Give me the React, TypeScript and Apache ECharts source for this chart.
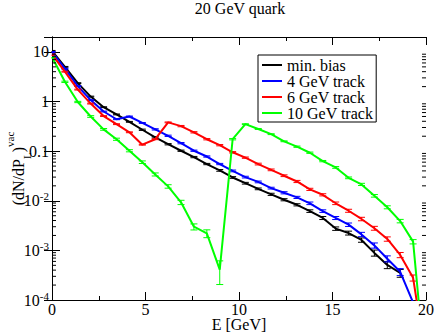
import React, { useEffect, useRef } from 'react';
import * as echarts from 'echarts';

// Energy grid (GeV)
const energies = [0, 0.69, 1.38, 2.07, 2.76, 3.45, 4.14, 4.83, 5.52, 6.21, 6.9, 7.59, 8.28, 8.97, 9.66, 10.34, 11.03, 11.72, 12.41, 13.1, 13.79, 14.48, 15.17, 15.86, 16.55, 17.24, 17.93, 18.62, 19.31, 20];

const minBias = [10.5, 5.0, 2.35, 1.26, 0.77, 0.55, 0.39, 0.27, 0.19, 0.138, 0.102, 0.076, 0.055, 0.041, 0.0295, 0.0226, 0.0174, 0.0135, 0.0105, 0.0083, 0.0062, 0.0045, 0.00275, 0.00224, 0.00162, 0.00089, 0.00051, 0.00035, null, null];
const track4 = [10, 4.6, 2.05, 1.07, 0.63, 0.44, 0.5, 0.37, 0.275, 0.204, 0.145, 0.102, 0.078, 0.055, 0.04, 0.03, 0.024, 0.018, 0.0145, 0.0117, 0.0089, 0.0062, 0.0045, 0.0033, 0.0021, 0.00126, 0.00068, 0.00037, 0.000089, null];
const track6 = [8.9, 4.0, 1.74, 0.91, 0.51, 0.35, 0.24, 0.135, 0.174, 0.38, 0.32, 0.24, 0.174, 0.132, 0.095, 0.074, 0.055, 0.042, 0.032, 0.0245, 0.017, 0.0132, 0.0089, 0.0063, 0.0043, 0.0028, 0.0017, 0.00081, 0.00028, 0.000006];
const track10 = [7.9, 2.5, 0.98, 0.5, 0.275, 0.174, 0.102, 0.06, 0.034, 0.0195, 0.0093, 0.003, 0.0022, 0.00041, 0.174, 0.35, 0.28, 0.22, 0.158, 0.123, 0.093, 0.063, 0.047, 0.029, 0.0214, 0.0126, 0.0074, 0.0039, 0.0015, 0.0000025];

// relative statistical errors
const errMinBias = [0.02, 0.02, 0.02, 0.02, 0.02, 0.02, 0.02, 0.03, 0.03, 0.03, 0.03, 0.03, 0.03, 0.04, 0.04, 0.04, 0.04, 0.05, 0.05, 0.05, 0.06, 0.07, 0.08, 0.09, 0.1, 0.14, 0.16, 0.18, 0, 0];
const errTrack4 = [0.02, 0.02, 0.02, 0.02, 0.02, 0.02, 0.02, 0.02, 0.03, 0.03, 0.03, 0.03, 0.03, 0.03, 0.04, 0.04, 0.04, 0.04, 0.05, 0.05, 0.06, 0.06, 0.07, 0.08, 0.1, 0.12, 0.14, 0.16, 0, 0];
const errTrack6 = [0.02, 0.02, 0.02, 0.02, 0.02, 0.02, 0.02, 0.02, 0.02, 0.02, 0.03, 0.03, 0.03, 0.03, 0.03, 0.03, 0.04, 0.04, 0.04, 0.05, 0.05, 0.05, 0.06, 0.07, 0.08, 0.09, 0.1, 0.12, 0.14, 0];
const errTrack10 = [0.02, 0.03, 0.03, 0.04, 0.04, 0.05, 0.05, 0.06, 0.07, 0.08, 0.1, 0.14, 0.18, 0.5, 0.03, 0.02, 0.02, 0.02, 0.02, 0.03, 0.03, 0.03, 0.04, 0.04, 0.05, 0.06, 0.07, 0.08, 0.1, 0];

const seriesNames = ['min. bias', '4 GeV track', '6 GeV track', '10 GeV track'];
const seriesColors = ['#000000', '#0000ff', '#ff0000', '#00ff00'];
const seriesValues = [minBias, track4, track6, track10];
const seriesErrors = [errMinBias, errTrack4, errTrack6, errTrack10];

// minor log ticks (2..9 per decade)
const minorLogTicks = [
  0.0002, 0.0003, 0.0004, 0.0005, 0.0006, 0.0007, 0.0008, 0.0009,
  0.002, 0.003, 0.004, 0.005, 0.006, 0.007, 0.008, 0.009,
  0.02, 0.03, 0.04, 0.05, 0.06, 0.07, 0.08, 0.09,
  0.2, 0.3, 0.4, 0.5, 0.6, 0.7, 0.8, 0.9,
  2, 3, 4, 5, 6, 7, 8, 9,
];

const FONT = 'Liberation Serif';
const Y_MIN = 0.0001;
const Y_MAX = 20;

export default function App() {
  const ref = useRef<HTMLDivElement>(null);
  useEffect(() => {
    if (!ref.current) return;
    const chart = echarts.init(ref.current, undefined, { renderer: 'svg' });

    const lineSeries = seriesNames.map((name, i) => ({
      name,
      type: 'line',
      xAxisIndex: 0,
      yAxisIndex: 0,
      data: energies.map((e, k) => [e, seriesValues[i][k] == null ? '-' : seriesValues[i][k]]),
      showSymbol: false,
      symbol: 'none',
      connectNulls: false,
      lineStyle: { color: seriesColors[i], width: 2 },
      itemStyle: { color: seriesColors[i] },
      z: 3 + i,
      clip: true,
    }));

    const errSeries = seriesNames.map((name, i) => ({
      type: 'custom',
      xAxisIndex: 0,
      yAxisIndex: 0,
      silent: true,
      clip: true,
      z: 3 + i,
      encode: { x: 0, y: 1 },
      data: energies
        .map((e, k) => {
          const v = seriesValues[i][k];
          if (v == null || v < Y_MIN) return null;
          return [e, v, v * seriesErrors[i][k]];
        })
        .filter((d) => d !== null),
      renderItem: (params: any, api: any) => {
        const x = api.value(0);
        const y = api.value(1);
        const err = api.value(2);
        const top = api.coord([x, y + err]);
        const bot = api.coord([x, Math.max(y - err, 1e-12)]);
        const hw = 3.5;
        const st = { stroke: seriesColors[i], lineWidth: 1 };
        return {
          type: 'group',
          children: [
            { type: 'line', shape: { x1: top[0], y1: top[1], x2: bot[0], y2: bot[1] }, style: st },
            { type: 'line', shape: { x1: top[0] - hw, y1: top[1], x2: top[0] + hw, y2: top[1] }, style: st },
            { type: 'line', shape: { x1: bot[0] - hw, y1: bot[1], x2: bot[0] + hw, y2: bot[1] }, style: st },
          ],
        };
      },
    }));

    const minorTickSeries = {
      type: 'custom',
      xAxisIndex: 0,
      yAxisIndex: 0,
      silent: true,
      z: 10,
      encode: { x: 0, y: 1 },
      data: minorLogTicks.map((v) => [0, v]),
      renderItem: (params: any, api: any) => {
        const cs = params.coordSys;
        const p = api.coord([0, api.value(1)]);
        const st = { stroke: '#000', lineWidth: 1 };
        return {
          type: 'group',
          children: [
            { type: 'line', shape: { x1: cs.x, y1: p[1], x2: cs.x + 4, y2: p[1] }, style: st },
            { type: 'line', shape: { x1: cs.x + cs.width - 4, y1: p[1], x2: cs.x + cs.width, y2: p[1] }, style: st },
          ],
        };
      },
    };

    const yLabelFormatter = (v: number) => {
      const l = Math.log10(v);
      const e = Math.round(l);
      if (Math.abs(l - e) > 1e-6) return '';
      if (e === 1) return '10';
      if (e === 0) return '1';
      if (e === -1) return '0.1';
      return '10{sup|' + e + '}';
    };

    const axisLine = { show: true, lineStyle: { color: '#000', width: 1 } };

    chart.setOption({
      animation: false,
      title: {
        text: '20 GeV quark',
        left: 240,
        top: 0,
        padding: 0,
        textAlign: 'center',
        textStyle: { fontFamily: FONT, fontSize: 16, fontWeight: 'normal', color: '#000' },
      },
      legend: {
        data: seriesNames,
        orient: 'vertical',
        left: 258,
        top: 55,
        padding: [2, 3, 1, 4],
        itemGap: 0,
        itemWidth: 20,
        itemHeight: 2,
        icon: 'rect',
        borderColor: '#000',
        borderWidth: 1,
        backgroundColor: '#fff',
        textStyle: { fontFamily: FONT, fontSize: 16, color: '#000', lineHeight: 15.5 },
      },
      grid: { left: 52, right: 10, top: 37, bottom: 33, containLabel: false, outerBoundsMode: 'none' },
      xAxis: [
        {
          type: 'value',
          position: 'bottom',
          min: 0,
          max: 20,
          interval: 5,
          name: 'E [GeV]',
          nameLocation: 'middle',
          nameGap: 17,
          nameMoveOverlap: false,
          nameTextStyle: { fontFamily: FONT, fontSize: 16, color: '#000', lineHeight: 15 },
          axisLine,
          axisTick: { show: true, inside: true, length: 8, lineStyle: { color: '#000' } },
          minorTick: { show: true, splitNumber: 2, length: 4, lineStyle: { color: '#000' } },
          splitLine: { show: false },
          minorSplitLine: { show: false },
          axisLabel: { fontFamily: FONT, fontSize: 16, color: '#000', margin: 2, lineHeight: 14 },
        },
        {
          type: 'value',
          position: 'top',
          min: 0,
          max: 20,
          interval: 5,
          axisLine,
          axisTick: { show: true, inside: true, length: 8, lineStyle: { color: '#000' } },
          minorTick: { show: true, splitNumber: 2, length: 4, lineStyle: { color: '#000' } },
          splitLine: { show: false },
          minorSplitLine: { show: false },
          axisLabel: { show: false },
        },
      ],
      yAxis: [
        {
          type: 'log',
          position: 'left',
          min: Y_MIN,
          max: Y_MAX,
          logBase: 10,
          name: '(dN/dP{sub|L}){sup|vac}',
          nameLocation: 'middle',
          nameGap: 20,
          nameMoveOverlap: false,
          nameTextStyle: {
            fontFamily: FONT,
            fontSize: 16,
            color: '#000',
            lineHeight: 28,
            rich: {
              sub: { fontFamily: FONT, fontSize: 11, color: '#000', verticalAlign: 'bottom', lineHeight: 12 },
              sup: { fontFamily: FONT, fontSize: 11, color: '#000', verticalAlign: 'top', lineHeight: 10 },
            },
          },
          axisLine,
          axisTick: { show: true, inside: true, length: 8, lineStyle: { color: '#000' } },
          splitLine: { show: false },
          axisLabel: {
            fontFamily: FONT,
            fontSize: 16,
            color: '#000',
            margin: 3,
            lineHeight: 20,
            formatter: yLabelFormatter,
            rich: {
              sup: { fontFamily: FONT, fontSize: 11, color: '#000', verticalAlign: 'top', lineHeight: 10 },
            },
          },
        },
        {
          type: 'log',
          position: 'right',
          min: Y_MIN,
          max: Y_MAX,
          logBase: 10,
          axisLine,
          axisTick: { show: true, inside: true, length: 8, lineStyle: { color: '#000' } },
          splitLine: { show: false },
          axisLabel: { show: false },
        },
      ],
      series: [...lineSeries, ...errSeries, minorTickSeries],
    });

    return () => chart.dispose();
  }, []);

  return (
    <div
      ref={ref}
      style={{ position: 'fixed', left: 0, top: 0, width: 436, height: 333, background: '#fff' }}
    />
  );
}
